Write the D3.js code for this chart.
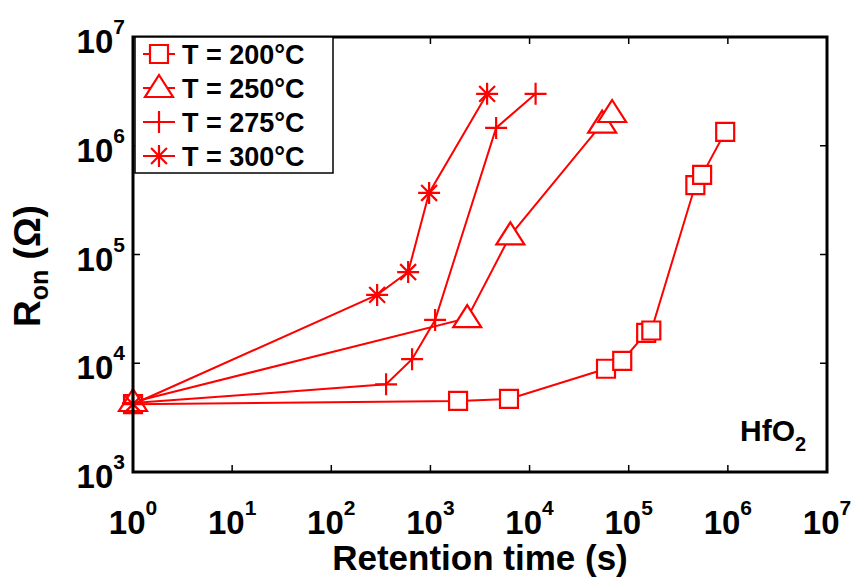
<!DOCTYPE html>
<html><head><meta charset="utf-8">
<script src="https://cdn.jsdelivr.net/npm/d3@7"></script>
<style>body{margin:0;background:#fff}svg{display:block}text{font-family:"Liberation Sans",Arial,sans-serif;font-weight:bold}</style>
</head><body>
<svg id="c" width="854" height="579"></svg>
<script>
// ---- data ----
const xTicks = [1e0,1e1,1e2,1e3,1e4,1e5,1e6,1e7];
const xTickExp = ["0","1","2","3","4","5","6","7"];
const yTicks = [1e3,1e4,1e5,1e6,1e7];
const yTickExp = ["3","4","5","6","7"];

const t200 = [1, 1900, 6200, 5.9e4, 8.6e4, 1.5e5, 1.69e5, 4.7e5, 5.5e5, 9.4e5];
const r200 = [4.2e3, 4.5e3, 4.7e3, 8.9e3, 1.05e4, 1.9e4, 2.0e4, 4.35e5, 5.4e5, 1.34e6];
const t250 = [1, 2350, 6400, 5.4e4, 6.8e4];
const r250 = [4.4e3, 2.6e4, 1.5e5, 1.6e6, 2.0e6];
const t275 = [1, 357, 653, 1115, 4600, 1.15e4];
const r275 = [4.3e3, 6.4e3, 1.09e4, 2.5e4, 1.46e6, 3.0e6];
const t300 = [1, 290, 596, 970, 3730];
const r300 = [4.2e3, 4.25e4, 6.9e4, 3.68e5, 3.0e6];
const seriesNames = ["T = 200°C","T = 250°C","T = 275°C","T = 300°C"];
const seriesMarkers = ["square","triangle","plus","star"];

const series = [[t200,r200],[t250,r250],[t275,r275],[t300,r300]].map((d,i)=>({
  name: seriesNames[i], marker: seriesMarkers[i],
  pts: d[0].map((t,j)=>({t, r:d[1][j]}))
}));

const L=133, R=827, T=37, B=472;
const red="#ff0000";
const svg=d3.select("#c");
const x=d3.scaleLog().domain([1,1e7]).range([L,R]);
const y=d3.scaleLog().domain([1e3,1e7]).range([B,T]);

function markerPath(type){
  const p=d3.path();
  if(type==="square"){p.rect(-9,-9,18,18);}
  else if(type==="triangle"){p.moveTo(0,-13);p.lineTo(14,9);p.lineTo(-14,9);p.closePath();}
  else if(type==="plus"){p.moveTo(-11,0);p.lineTo(11,0);p.moveTo(0,-11);p.lineTo(0,11);}
  else { // star
    const r=11;
    p.moveTo(-r,0);p.lineTo(r,0);p.moveTo(0,-r);p.lineTo(0,r);
    const d=r*0.72;p.moveTo(-d,-d);p.lineTo(d,d);p.moveTo(-d,d);p.lineTo(d,-d);
  }
  return p.toString();
}

// ticks (inward)
const tk=svg.append("g").attr("stroke","#000").attr("stroke-width",1.5);
xTicks.forEach(v=>{
  tk.append("line").attr("x1",x(v)).attr("x2",x(v)).attr("y1",B).attr("y2",B-7);
  tk.append("line").attr("x1",x(v)).attr("x2",x(v)).attr("y1",T).attr("y2",T+7);
});
yTicks.forEach(v=>{
  tk.append("line").attr("x1",L).attr("x2",L+7).attr("y1",y(v)).attr("y2",y(v));
  tk.append("line").attr("x1",R).attr("x2",R-7).attr("y1",y(v)).attr("y2",y(v));
});

// data
const line=d3.line().x(d=>x(d.t)).y(d=>y(d.r));
const g=svg.append("g");
series.forEach(s=>{
  g.append("path").attr("d",line(s.pts)).attr("fill","none").attr("stroke",red).attr("stroke-width",2);
  g.selectAll(null).data(s.pts).enter().append("path")
    .attr("d",markerPath(s.marker)).attr("transform",d=>`translate(${x(d.t)},${y(d.r)})`)
    .attr("fill", s.marker==="square"||s.marker==="triangle"?"#fff":"none")
    .attr("stroke",red).attr("stroke-width",2.2);
});

// box
svg.append("rect").attr("x",L).attr("y",T).attr("width",R-L).attr("height",B-T)
  .attr("fill","none").attr("stroke","#000").attr("stroke-width",3);

// x tick labels
xTicks.forEach((v,i)=>{
  const t=svg.append("text").attr("x",x(v)).attr("y",534).attr("text-anchor","middle").attr("font-size",33);
  t.append("tspan").text("10");
  t.append("tspan").attr("font-size",21).attr("dy",-19).text(xTickExp[i]);
});
// y tick labels
yTicks.forEach((v,i)=>{
  const t=svg.append("text").attr("x",125).attr("y",y(v)+16).attr("text-anchor","end").attr("font-size",33);
  t.append("tspan").text("10");
  t.append("tspan").attr("font-size",21).attr("dy",-19).text(yTickExp[i]);
});

// axis labels
svg.append("text").attr("x",(L+R)/2).attr("y",570).attr("text-anchor","middle").attr("font-size",35)
  .text("Retention time (s)");
const yl=svg.append("text").attr("transform","translate(40,266) rotate(-90)").attr("text-anchor","middle").attr("font-size",37);
yl.append("tspan").text("R");
yl.append("tspan").attr("font-size",25).attr("dy",8).text("on");
yl.append("tspan").attr("dy",-8).text(" (Ω)");

// HfO2
const hf=svg.append("text").attr("x",740).attr("y",441).attr("font-size",30);
hf.append("tspan").text("HfO");
hf.append("tspan").attr("font-size",20).attr("dy",10).text("2");

// legend
const lg=svg.append("g");
lg.append("rect").attr("x",135).attr("y",37).attr("width",198).attr("height",136)
  .attr("fill","#fff").attr("stroke","#000").attr("stroke-width",1.5);
series.forEach((s,i)=>{
  const yy=54+i*34;
  lg.append("line").attr("x1",143).attr("x2",175).attr("y1",yy).attr("y2",yy).attr("stroke",red).attr("stroke-width",2);
  lg.append("path").attr("d",markerPath(s.marker)).attr("transform",`translate(159,${yy})`)
    .attr("fill", s.marker==="square"||s.marker==="triangle"?"#fff":"none").attr("stroke",red).attr("stroke-width",2.2);
  lg.append("text").attr("x",182).attr("y",yy+10).attr("font-size",27).text(s.name);
});
</script>
</body></html>
